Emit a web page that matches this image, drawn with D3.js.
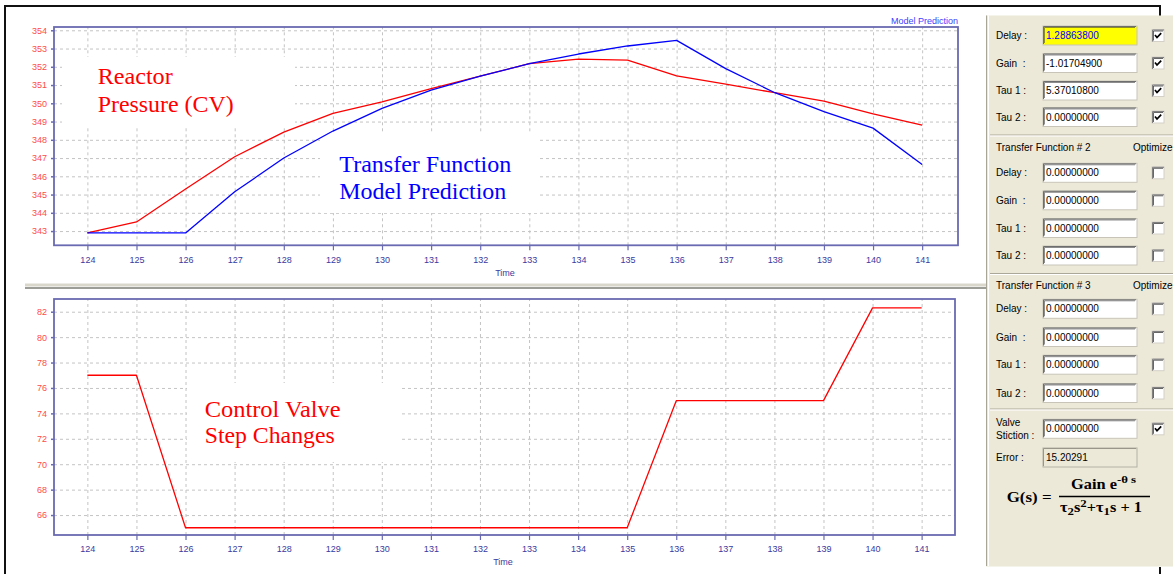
<!DOCTYPE html>
<html><head><meta charset="utf-8">
<script src="https://cdn.jsdelivr.net/npm/d3@7"></script>
<style>
body{margin:0;background:#fff}
svg{display:block}
text{white-space:pre}
</style>
</head><body>
<svg id="c" width="1173" height="574"></svg>
<script>
// ---------------- DATA ----------------
const time = [124,125,126,127,128,129,130,131,132,133,134,135,136,137,138,139,140,141];
const reactorPressure = [342.9,343.5,345.3,347.07,348.42,349.45,350.08,350.8,351.49,352.17,352.42,352.36,351.5,351.05,350.58,350.12,349.42,348.8];
const modelPrediction = [342.9,342.9,342.9,345.15,347.0,348.48,349.72,350.72,351.49,352.17,352.7,353.14,353.45,351.9,350.58,349.54,348.64,346.65];
const valvePosition = [77,77,65,65,65,65,65,65,65,65,65,65,75,75,75,75,82.3,82.3];
const pressureTicks = [343,344,345,346,347,348,349,350,351,352,353,354];
const valveTicks = [66,68,70,72,74,76,78,80,82];
const paramLabels = ["Delay :","Gain  :","Tau 1 :","Tau 2 :"];
const tf1Values = ["1.28863800","-1.01704900","5.37010800","0.00000000"];
const tf1Optimize = [true,true,true,true];
const tf2Values = ["0.00000000","0.00000000","0.00000000","0.00000000"];
const tf2Optimize = [false,false,false,false];
const tf3Values = ["0.00000000","0.00000000","0.00000000","0.00000000"];
const tf3Optimize = [false,false,false,false];
const stictionValue = "0.00000000";
const errorValue = "15.20291";

// ---------------- STYLE ----------------
const FRAME = "#6a6ab2";
const GRID = "#c4c4c4";
const XLAB = "#3a3aa0";
const YLAB = "#ff4a4a";
const UI = "Liberation Sans, Arial, sans-serif";
const SERIF = "Liberation Serif, Times New Roman, serif";
const PANEL = "#ece9d8";

const svg = d3.select("#c");
svg.append("rect").attr("width",1173).attr("height",574).attr("fill","#fff");

function drawChart(cfg){
  const g = svg.append("g");
  const x = d3.scaleLinear().domain(cfg.xDomain).range(cfg.xRange);
  const y = d3.scaleLinear().domain(cfg.yDomain).range(cfg.yRange);
  const [x0,x1] = cfg.xRange, [y0,y1] = cfg.yRange; // y0 bottom, y1 top
  g.append("g").attr("transform",`translate(0,${y0})`)
    .call(d3.axisBottom(x).tickValues(time).tickSize(-(y0-y1)).tickFormat(""))
    .call(s=>{s.select(".domain").remove(); s.selectAll("line").attr("stroke",GRID).attr("stroke-dasharray","3,3");});
  g.append("g").attr("transform",`translate(${x0},0)`)
    .call(d3.axisLeft(y).tickValues(cfg.yTicks).tickSize(-(x1-x0)).tickFormat(""))
    .call(s=>{s.select(".domain").remove(); s.selectAll("line").attr("stroke",GRID).attr("stroke-dasharray","3,3");});
  cfg.masks.forEach(m=>g.append("rect").attr("x",m[0]).attr("y",m[1]).attr("width",m[2]-m[0]).attr("height",m[3]-m[1]).attr("fill","#fff"));
  cfg.notes.forEach(n=>{
    g.append("text").attr("x",n.x).attr("y",n.y).attr("fill",n.color)
      .attr("font-family",SERIF).attr("font-size",24)
      .attr("textLength",n.w).attr("lengthAdjust","spacingAndGlyphs").text(n.t);
  });
  cfg.series.forEach(s=>{
    const line = d3.line().x((d,i)=>x(time[i])).y(d=>y(d));
    g.append("path").datum(s.values).attr("d",line).attr("fill","none")
      .attr("stroke",s.color).attr("stroke-width",1.3).attr("stroke-linejoin","round");
  });
  g.append("rect").attr("x",x0).attr("y",y1).attr("width",x1-x0).attr("height",y0-y1)
    .attr("fill","none").attr("stroke",FRAME).attr("stroke-width",1.8);
  g.append("g").attr("transform",`translate(0,${y0})`)
    .call(d3.axisBottom(x).tickValues(time).tickSize(5).tickPadding(6).tickFormat(d3.format("d")))
    .call(s=>{s.select(".domain").remove(); s.selectAll("line").attr("stroke",FRAME).attr("stroke-width",1.2);
      s.selectAll("text").attr("fill",XLAB).attr("font-family",UI).attr("font-size",9);});
  g.append("g").attr("transform",`translate(${x0},0)`)
    .call(d3.axisLeft(y).tickValues(cfg.yTicks).tickSize(3).tickPadding(4).tickFormat(d3.format("d")))
    .call(s=>{s.select(".domain").remove(); s.selectAll("line").attr("stroke",FRAME).attr("stroke-width",1.5);
      s.selectAll("text").attr("fill",YLAB).attr("font-family",UI).attr("font-size",9);});
  g.append("text").attr("x",cfg.timeX).attr("y",cfg.timeY).attr("text-anchor","middle")
    .attr("fill",XLAB).attr("font-family",UI).attr("font-size",9).text("Time");
  return g;
}

const topChart = drawChart({
  xDomain:[123.32,141.73], xRange:[54,958],
  yDomain:[342.22,354.18], yRange:[245.3,27],
  yTicks:pressureTicks,
  series:[{values:reactorPressure,color:"#ff0000"},{values:modelPrediction,color:"#0000ff"}],
  masks:[[62,57,295,128],[320,133,537,213]],
  notes:[
    {t:"Reactor",x:97.7,y:84,w:75,color:"#ff0000"},
    {t:"Pressure (CV)",x:97.7,y:112,w:136,color:"#ff0000"},
    {t:"Transfer Function",x:339.3,y:171.7,w:172,color:"#0000ff"},
    {t:"Model Prediction",x:339.3,y:199,w:167,color:"#0000ff"}
  ],
  timeX:505, timeY:276
});
topChart.append("text").attr("x",958).attr("y",24).attr("text-anchor","end")
  .attr("fill","#4040ff").attr("font-family",UI).attr("font-size",9).text("Model Prediction");

drawChart({
  xDomain:[123.32,141.68], xRange:[54,955],
  yDomain:[64.43,83.0], yRange:[535,299],
  yTicks:valveTicks,
  series:[{values:valvePosition,color:"#ff0000"}],
  masks:[[187,383,400,462]],
  notes:[
    {t:"Control Valve",x:204.7,y:416.7,w:136,color:"#ff0000"},
    {t:"Step Changes",x:204.7,y:443.3,w:130,color:"#ff0000"}
  ],
  timeX:503, timeY:565
});

// splitter bar
svg.append("rect").attr("x",25).attr("y",283.5).attr("width",961).attr("height",3).attr("fill","#d9d7cc");
svg.append("line").attr("x1",25).attr("x2",986).attr("y1",288).attr("y2",288).attr("stroke","#7c7c74").attr("stroke-width",1.5);

// outer black border
const B = "#111";
svg.append("line").attr("x1",5).attr("x2",1161).attr("y1",6).attr("y2",6).attr("stroke",B).attr("stroke-width",2);
svg.append("line").attr("x1",5).attr("x2",5).attr("y1",5).attr("y2",574).attr("stroke",B).attr("stroke-width",2);
svg.append("line").attr("x1",1160).attr("x2",1160).attr("y1",5).attr("y2",16).attr("stroke",B).attr("stroke-width",2);
svg.append("line").attr("x1",1160).attr("x2",1160).attr("y1",567).attr("y2",574).attr("stroke",B).attr("stroke-width",2);

// ---------------- PANEL ----------------
const P = svg.append("g");
P.append("rect").attr("x",986).attr("y",15.5).attr("width",190).attr("height",551).attr("fill",PANEL);
P.append("line").attr("x1",986.5).attr("x2",986.5).attr("y1",15.5).attr("y2",566).attr("stroke","#a8a496");
P.append("line").attr("x1",988.5).attr("x2",988.5).attr("y1",15.5).attr("y2",566).attr("stroke","#fff");

function etched(y){
  P.append("line").attr("x1",990).attr("x2",1173).attr("y1",y).attr("y2",y).attr("stroke","#aca899");
  P.append("line").attr("x1",990).attr("x2",1173).attr("y1",y+1).attr("y2",y+1).attr("stroke","#fff");
}
function label(t,x,y){
  P.append("text").attr("x",x).attr("y",y).attr("font-family",UI).attr("font-size",10).attr("fill","#000").text(t);
}
function box(cy,val,opts={}){
  const x=1043,w=94,h=19,y=cy-h/2;
  P.append("rect").attr("x",x).attr("y",y).attr("width",w).attr("height",h)
    .attr("fill",opts.bg||"#fff").attr("stroke",opts.disabled?"#b5b2a4":"#c8c5b8");
  if(!opts.disabled){
    P.append("path").attr("d",`M${x+0.5},${y+h-1}V${y+0.5}H${x+w-1}`).attr("fill","none").attr("stroke","#6e6e6e");
    P.append("path").attr("d",`M${x+1.5},${y+h-2}V${y+1.5}H${x+w-2}`).attr("fill","none").attr("stroke","#404040").attr("stroke-width",0.6);
  } else {
    P.append("path").attr("d",`M${x+0.5},${y+h-1}V${y+0.5}H${x+w-1}`).attr("fill","none").attr("stroke","#9a978a");
  }
  P.append("text").attr("x",x+3).attr("y",cy+3.6).attr("font-family",UI).attr("font-size",10)
    .attr("fill",opts.color||"#000").text(val);
}
function check(cy,on){
  const x=1152,s=12,y=cy-s/2;
  P.append("rect").attr("x",x).attr("y",y).attr("width",s).attr("height",s).attr("fill","#fff").attr("stroke","#d4d0c8");
  P.append("path").attr("d",`M${x+0.5},${y+s}V${y+0.5}H${x+s}`).attr("fill","none").attr("stroke","#808080");
  P.append("path").attr("d",`M${x+1.5},${y+s-1}V${y+1.5}H${x+s-1}`).attr("fill","none").attr("stroke","#404040").attr("stroke-width",0.8);
  if(on) P.append("path").attr("d",`M${x+3},${y+5.5}L${x+5},${y+8}L${x+9.2},${y+3.6}`)
    .attr("fill","none").attr("stroke","#000").attr("stroke-width",1.7);
}
function group(centers,vals,opts,firstHighlight){
  centers.forEach((cy,i)=>{
    label(paramLabels[i],996,cy+3.6);
    box(cy,vals[i], (firstHighlight&&i===0)?{bg:"#ffff00",color:"#0000ff"}:{});
    check(cy,opts[i]);
  });
}
group([35.5,63,90.5,117],tf1Values,tf1Optimize,true);
etched(135);
label("Transfer Function # 2",996,150.5); label("Optimize",1133,150.5);
group([172.8,200.3,228,255.5],tf2Values,tf2Optimize,false);
etched(273.5);
label("Transfer Function # 3",996,288.5); label("Optimize",1133,288.5);
group([308.8,337,364.7,393],tf3Values,tf3Optimize,false);
etched(409);
label("Valve",996,425.5); label("Stiction :",996,439);
box(428.8,stictionValue); check(428.8,true);
label("Error :",996,460.5);
box(457.5,errorValue,{bg:PANEL,disabled:true});

// formula
function fitText(build,x,y,w){
  const g = P.append("g");
  const t = g.append("text").attr("font-family",SERIF).attr("font-weight","bold").attr("font-size",14).attr("fill","#000");
  build(t);
  const bw = t.node().getBBox().width || w;
  g.attr("transform",`translate(${x},${y}) scale(${w/bw},1)`);
}
fitText(t=>t.text("G(s) ="),1006.7,501.5,45);
fitText(t=>{t.append("tspan").text("Gain e");
  t.append("tspan").attr("dy",-6).attr("font-size",11).text("-θ s");},1071,489,66);
P.append("line").attr("x1",1059).attr("x2",1150).attr("y1",496.5).attr("y2",496.5).attr("stroke","#000").attr("stroke-width",1.4);
fitText(t=>{
  t.append("tspan").text("τ");
  t.append("tspan").attr("dy",3).attr("font-size",11).text("2");
  t.append("tspan").attr("dy",-3).text("s");
  t.append("tspan").attr("dy",-5).attr("font-size",11).text("2");
  t.append("tspan").attr("dy",5).text("+τ");
  t.append("tspan").attr("dy",3).attr("font-size",11).text("1");
  t.append("tspan").attr("dy",-3).text("s + 1");
},1060,511.7,82);
</script>
</body></html>
